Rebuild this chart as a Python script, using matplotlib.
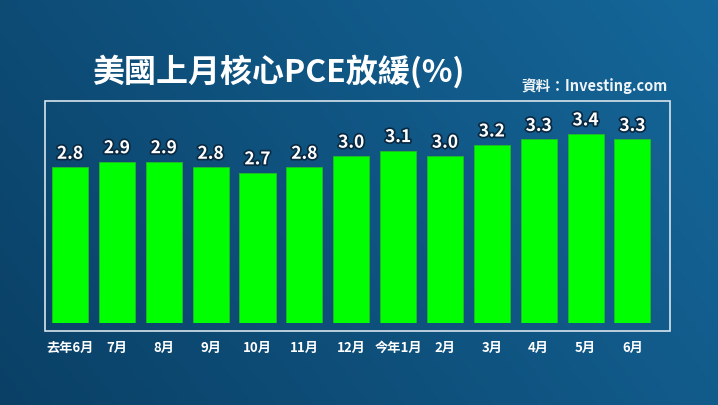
import numpy as np
import matplotlib
matplotlib.use("Agg")
import matplotlib.pyplot as plt
import matplotlib.patheffects as pe
from matplotlib.patches import Rectangle

plt.rcParams['font.family'] = ['Noto Sans CJK TC', 'DejaVu Sans']

# 數據
months = ['去年6月', '7月', '8月', '9月', '10月', '11月', '12月',
          '今年1月', '2月', '3月', '4月', '5月', '6月']
pce = [2.8, 2.9, 2.9, 2.8, 2.7, 2.8, 3.0, 3.1, 3.0, 3.2, 3.3, 3.4, 3.3]

W, H = 718, 405
fig = plt.figure(figsize=(W / 100, H / 100), dpi=100)

# 背景漸變
bg = fig.add_axes([0, 0, 1, 1])
gx = np.linspace(0, 1, 200)
gy = np.linspace(0, 1, 120)
X, Y = np.meshgrid(gx, gy)
t = np.clip(0.6 * X + 0.25 * (1 - Y), 0, 1)
c0 = np.array([0x0a, 0x40, 0x66]) / 255
c1 = np.array([0x17, 0x6e, 0xa4]) / 255
img = c0[None, None, :] * (1 - t[..., None]) + c1[None, None, :] * t[..., None]
bg.imshow(img, extent=[0, 1, 0, 1], aspect='auto', origin='upper')
bg.set_xlim(0, 1)
bg.set_ylim(0, 1)
bg.axis('off')

# 白框
fig.patches.append(Rectangle((45 / W, 1 - 331 / H), 625 / W, 230 / H,
                             transform=fig.transFigure, fill=False,
                             edgecolor='#d8e4ec', linewidth=1.2))

# 柱狀圖
step = 46.87
left_i = (45 - 70) / step
right_i = (670 - 70) / step
ax = fig.add_axes([45 / W, 1 - 323 / H, 625 / W, 222 / H])
ax.patch.set_alpha(0)
x = np.arange(len(months))
ax.bar(x, pce, width=0.77, color='#00ff00', edgecolor='#22bb22', linewidth=0.6)
ax.set_xlim(left_i, right_i)
ax.set_ylim(0, 3.99)
ax.axis('off')

outline = [pe.withStroke(linewidth=2.5, foreground='#0a2a44')]
for xi, v in zip(x, pce):
    ax.text(xi, v + 0.08, f'{v:.1f}', ha='center', va='bottom', color='white',
            fontsize=12.5, fontweight='bold', path_effects=outline)

for xi, m in zip(x, months):
    ax.text(xi, -0.45, m, ha='center', va='center', color='white',
            fontsize=9.5, fontweight='bold')

fig.text(92 / W, 1 - 72 / H, '美國上月核心PCE放緩(%)', ha='left', va='center',
         color='white', fontsize=23, fontweight='bold')
fig.text(668 / W, 1 - 86 / H, '資料：Investing.com', ha='right', va='center',
         color='#eef4f8', fontsize=10.5, fontweight='bold')

fig.savefig('out.png', dpi=100)
